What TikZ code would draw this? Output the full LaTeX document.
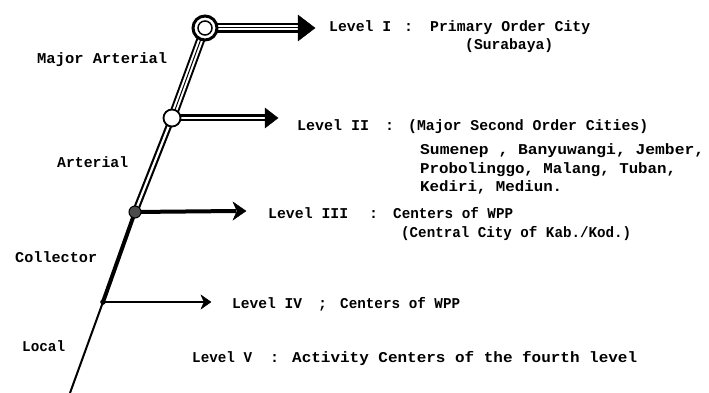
\documentclass[tikz,border=0pt]{standalone}
\usepackage{fontspec}
\setmonofont{Liberation Mono}
\newsavebox\myfitbox
\newcommand\myfit[2]{\sbox\myfitbox{#2}\pgfmathsetmacro\myfitfac{#1/\wd\myfitbox}\scalebox{\myfitfac}[1]{\usebox\myfitbox}}
\begin{document}
\begin{tikzpicture}[x=1pt,y=-1pt,
  txt/.style={anchor=base west,inner sep=0pt,font=\ttfamily\bfseries\fontsize{15}{15}\selectfont},
  road/.style={line cap=butt,black},
  hub/.style={circle,draw=black,fill=white,inner sep=0pt},
  head/.style={fill=black,draw=black,line join=miter}
]
\useasboundingbox (0,0) rectangle (709,393);
% hub positions
\coordinate (p1) at (205,28);
\coordinate (p2) at (172,118);
\coordinate (p3) at (135,212);
\coordinate (p4) at (103,302);
\coordinate (p0) at (70,393);
% roads
\draw[road,line width=9pt] (p1) -- (p2);
\draw[road,white,line width=5pt] (p1) -- (p2);
\draw[road,line width=1pt] (p1) -- (p2);
\draw[road,line width=6.5pt] (p2) -- (p3);
\draw[road,white,line width=2.2pt] (p2) -- (p3);
\draw[road,line width=4pt] (p3) -- (p4);
\draw[road,line width=2pt] (p4) -- (p0);
% arrows
\coordinate (e1) at (298,28);
\coordinate (t1) at (315,28);
\draw[road,line width=10pt] (p1) -- (e1);
\draw[road,white,line width=5pt] (p1) -- (e1);
\draw[road,line width=1pt] (p1) -- (e1);
\filldraw[head] (298,15) -- (t1) -- (298,41) -- cycle;
\coordinate (e2) at (265,118);
\coordinate (t2) at (278,118);
\draw[road,line width=7pt] (p2) -- (e2);
\draw[road,white,line width=2.5pt] (p2) -- (e2);
\filldraw[head] (265,108) -- (t2) -- (265,128) -- cycle;
\coordinate (e3) at (236,211);
\coordinate (t3) at (246,211);
\draw[road,line width=4pt] (p3) -- (e3);
\filldraw[head] (233,202) -- (t3) -- (233,220) -- (237,211) -- cycle;
\coordinate (e4) at (204,302);
\coordinate (t4) at (211,302);
\draw[road,line width=2pt] (p4) -- (e4);
\filldraw[head] (201,295) -- (t4) -- (201,309) -- (204,302) -- cycle;
% hub nodes
\node[hub,line width=3pt,minimum size=24pt] (h1) at (p1) {};
\draw[line width=1.5pt] (h1.center) circle (7pt);
\node[hub,line width=1.8pt,minimum size=17pt] (h2) at (p2) {};
\node[hub,fill=black!70,line width=1pt,minimum size=12pt] (h3) at (p3) {};
\node[hub,fill=black,minimum size=5pt] (h4) at (p4) {};
% left labels
\node[txt] (ma) at (37,64) {\myfit{130}{Major Arterial}};
\node[txt] (ar) at (57,167) {\myfit{71}{Arterial}};
\node[txt] (co) at (15,262) {\myfit{82}{Collector}};
\node[txt] (lo) at (22,351) {\myfit{43}{Local}};
% right labels
\node[txt] (l1) at (329,32) {\myfit{62}{Level I}};
\node[txt] (c1) at (404,32) {:};
\node[txt] (d1) at (430,32) {\myfit{160}{Primary Order City}};
\node[txt] (d1b) at (465,50) {\myfit{88}{(Surabaya)}};
\node[txt] (l2) at (297,131) {\myfit{72}{Level II}};
\node[txt] (c2) at (385,131) {:};
\node[txt] (d2) at (408,131) {\myfit{240}{(Major Second Order Cities)}};
\node[txt] (d2b) at (420,154) {\myfit{284}{Sumenep , Banyuwangi, Jember,}};
\node[txt] (d2c) at (420,173) {\myfit{256}{Probolinggo, Malang, Tuban,}};
\node[txt] (d2d) at (420,191) {\myfit{142}{Kediri, Mediun.}};
\node[txt] (l3) at (268,218) {\myfit{80}{Level III}};
\node[txt] (c3) at (369,218) {:};
\node[txt] (d3) at (393,218) {\myfit{120}{Centers of WPP}};
\node[txt] (d3b) at (401,237) {\myfit{230}{(Central City of Kab./Kod.)}};
\node[txt] (l4) at (232,308) {\myfit{70}{Level IV}};
\node[txt] (c4) at (318,308) {;};
\node[txt] (d4) at (340,308) {\myfit{120}{Centers of WPP}};
\node[txt] (l5) at (192,362) {\myfit{60}{Level V}};
\node[txt] (c5) at (270,362) {:};
\node[txt] (d5) at (292,362) {\myfit{345}{Activity Centers of the fourth level}};
\end{tikzpicture}
\end{document}
